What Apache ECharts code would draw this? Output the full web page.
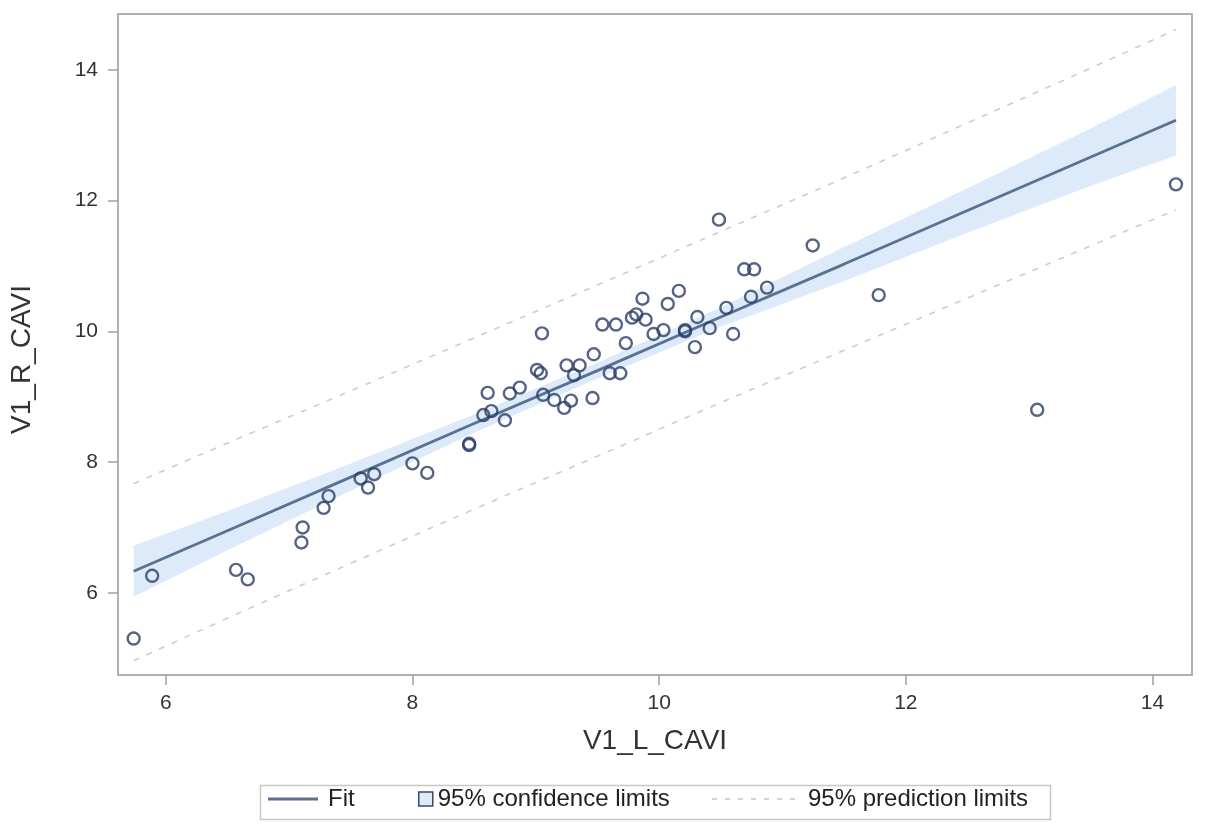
<!DOCTYPE html>
<html>
<head>
<meta charset="utf-8">
<script src="https://cdn.jsdelivr.net/npm/echarts@6/dist/echarts.min.js"></script>
<style>
html,body{margin:0;padding:0;background:#fff;}
#chart{width:1205px;height:829px;}
</style>
</head>
<body>
<div id="chart"></div>
<script>
// Observations (V1_L_CAVI, V1_R_CAVI)
const obsX = [5.74,5.89,6.57,6.665,7.11,7.10,7.28,7.32,7.58,7.64,7.69,8.00,8.12,8.46,8.46,8.575,8.64,8.75,8.61,8.79,8.87,9.05,9.01,9.04,9.06,9.15,9.23,9.285,9.25,9.355,9.31,9.47,9.46,9.54,9.65,9.73,9.60,9.685,9.865,9.78,9.815,9.89,10.485,10.69,10.77,10.16,10.07,9.955,10.035,10.21,10.21,10.31,10.29,10.41,10.545,10.60,10.745,10.875,11.245,11.78,13.065,14.19];
const obsY = [5.30,6.26,6.35,6.205,7.00,6.77,7.30,7.48,7.75,7.61,7.815,7.98,7.835,8.26,8.28,8.72,8.78,8.64,9.06,9.05,9.14,9.97,9.41,9.36,9.03,8.95,8.83,8.94,9.48,9.48,9.33,9.65,8.98,10.105,10.105,9.82,9.36,9.36,10.50,10.21,10.26,10.18,11.71,10.95,10.95,10.62,10.42,9.96,10.02,10.00,10.02,10.22,9.76,10.05,10.36,9.96,10.53,10.67,11.315,10.555,8.80,12.25];

// Fit line and limits, read at a few x positions
const bandX     = [5.74, 6.5, 7.5, 8.5, 9.5, 10.5, 11.5, 12.5, 13.5, 14.19];
const fitY      = [6.33, 6.95, 7.77, 8.59, 9.40, 10.22, 11.03, 11.85, 12.67, 13.23];
const confUpper = [6.72, 7.25, 7.98, 8.73, 9.52, 10.37, 11.29, 12.19, 13.11, 13.77];
const confLower = [5.94, 6.65, 7.56, 8.45, 9.28, 10.07, 10.77, 11.51, 12.23, 12.69];
const predUpper = [7.67, 8.29, 9.09, 9.90, 10.71, 11.53, 12.35, 13.19, 14.03, 14.62];
const predLower = [4.96, 5.61, 6.45, 7.28, 8.09, 8.91, 9.71, 10.51, 11.31, 11.86];

const xTicks = [6, 8, 10, 12, 14];
const yTicks = [6, 8, 10, 12, 14];

const FONT = "'Liberation Sans', Arial, sans-serif";
const pairs = (xs, ys) => xs.map((x, i) => [x, ys[i]]);

// legend icon paths
const fitIcon = 'path://M0,0h50v3h-50z';
let dashPath = '';
for (let x = 0; x + 5 <= 83; x += 13) dashPath += 'M' + x + ',0h5v2h-5z';
const dashIcon = 'path://' + dashPath;

const chart = echarts.init(document.getElementById('chart'), null, {renderer: 'canvas'});
const axisCommon = {
  type: 'value',
  axisLine: {show: true, lineStyle: {color: '#B0B0B0', width: 2}},
  axisTick: {show: true, length: 10, lineStyle: {color: '#A0A0A0', width: 1.5}},
  splitLine: {show: false},
  nameTextStyle: {fontFamily: FONT, fontSize: 28, color: '#333'}
};
chart.setOption({
  animation: false,
  backgroundColor: '#fff',
  grid: {left: 118, right: 13, top: 14, bottom: 154, show: true, borderColor: '#B0B0B0', borderWidth: 2, backgroundColor: 'transparent'},
  xAxis: Object.assign({}, axisCommon, {
    min: 5.613, max: 14.32,
    name: 'V1_L_CAVI', nameLocation: 'middle', nameGap: 52,
    axisTick: Object.assign({}, axisCommon.axisTick, {customValues: xTicks}),
    axisLabel: {customValues: xTicks, margin: 18, fontFamily: FONT, fontSize: 21, color: '#333'}
  }),
  yAxis: Object.assign({}, axisCommon, {
    min: 4.742, max: 14.857,
    name: 'V1_R_CAVI', nameLocation: 'middle', nameGap: 82,
    nameTextStyle: {fontFamily: FONT, fontSize: 28, color: '#333', padding: [0, 30, 0, 0]},
    axisTick: Object.assign({}, axisCommon.axisTick, {customValues: yTicks}),
    axisLabel: {customValues: yTicks, margin: 20, fontFamily: FONT, fontSize: 21, color: '#333'}
  }),
  legend: [
    {left: 268, top: 787, padding: 0, itemWidth: 50, itemHeight: 3, selectedMode: false,
     textStyle: {fontFamily: FONT, fontSize: 24, color: '#222', padding: [0, 0, 0, 5]},
     data: [{name: 'Fit', icon: fitIcon, itemStyle: {color: '#5B7192', borderWidth: 0}}]},
    {left: 418, top: 787, padding: 0, itemWidth: 14, itemHeight: 14, selectedMode: false,
     textStyle: {fontFamily: FONT, fontSize: 24, color: '#222'},
     data: [{name: '95% confidence limits', icon: 'rect', itemStyle: {color: '#DCEAF9', borderColor: '#3A4A6A', borderWidth: 1.5}}]},
    {left: 712, top: 787, padding: 0, itemWidth: 83, itemHeight: 2, selectedMode: false,
     textStyle: {fontFamily: FONT, fontSize: 24, color: '#222', padding: [0, 0, 0, 8]},
     data: [{name: '95% prediction limits', icon: dashIcon, itemStyle: {color: '#D2D2D2', borderWidth: 0}}]}
  ],
  graphic: [
    {type: 'rect', left: 258, top: 783, shape: {width: 790, height: 34}, style: {fill: 'none', stroke: '#C8C8C8', lineWidth: 1.5}, silent: true, z: -1}
  ],
  series: [
    {
      name: '95% confidence limits', type: 'custom', z: 1,
      data: pairs(bandX, confUpper),
      encode: {x: 0, y: 1},
      renderItem: function (params, api) {
        if (params.dataIndex !== 0) return null;
        const pts = [];
        for (let i = 0; i < bandX.length; i++) pts.push(api.coord([bandX[i], confUpper[i]]));
        for (let i = bandX.length - 1; i >= 0; i--) pts.push(api.coord([bandX[i], confLower[i]]));
        return {type: 'polygon', shape: {points: pts}, style: {fill: '#DCEAF9', stroke: 'none'}};
      },
      itemStyle: {color: '#DCEAF9'}
    },
    {
      name: '95% prediction limits', type: 'line', z: 2, symbol: 'none', smooth: true,
      data: pairs(bandX, predUpper),
      lineStyle: {color: '#CDCDCD', width: 1.6, type: [6, 8]},
      itemStyle: {color: '#CDCDCD'}
    },
    {
      name: '95% prediction limits', type: 'line', z: 2, symbol: 'none', smooth: true,
      data: pairs(bandX, predLower),
      lineStyle: {color: '#CDCDCD', width: 1.6, type: [6, 8]},
      itemStyle: {color: '#CDCDCD'}
    },
    {
      name: 'Fit', type: 'line', z: 3, symbol: 'none',
      data: pairs(bandX, fitY),
      lineStyle: {color: '#5B7192', width: 2.8},
      itemStyle: {color: '#5B7192'}
    },
    {
      name: 'Observations', type: 'scatter', z: 4,
      symbol: 'circle', symbolSize: 12,
      data: pairs(obsX, obsY),
      itemStyle: {color: 'rgba(0,0,0,0)', borderColor: '#2B3D66', borderWidth: 2.4}
    }
  ]
});
</script>
</body>
</html>
